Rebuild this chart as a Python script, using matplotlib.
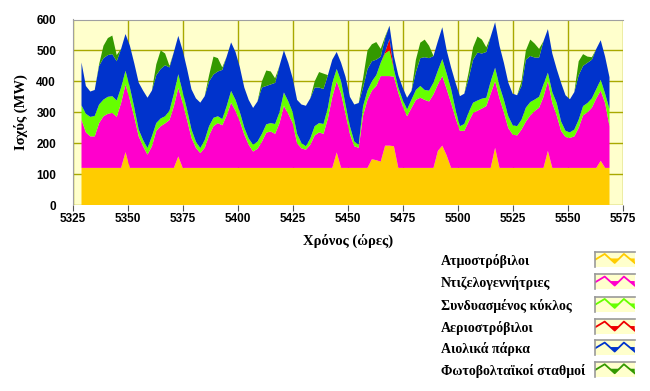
import numpy as np
import matplotlib
matplotlib.use('Agg')
import matplotlib.pyplot as plt

# hourly readings, every 2 hours from 5329 to 5569
hours = np.arange(5329, 5570, 2)

steam = [120] * 10 + [171, 120] + \
        [120] * 10 + [157, 120] + \
        [120] * 12 + \
        [120] * 12 + \
        [120] * 10 + [170, 120] + \
        [120] * 6 + [148, 145, 140, 192, 192, 190] + \
        [120] * 9 + [175, 192, 160] + \
        [120] * 10 + [185, 120] + \
        [120] * 10 + [175, 120] + \
        [120] * 10 + [143, 120, 120]

diesel = [156, 115, 102, 102, 145, 167, 175, 178, 165, 210, 219, 220,
          164, 102, 70, 43, 70, 120, 135, 144, 155, 200, 222, 210,
          155, 97, 65, 48, 65, 105, 135, 145, 138, 170, 211, 185,
          150, 108, 75, 53, 62, 85, 114, 118, 110, 145, 201, 175,
          145, 80, 63, 59, 75, 105, 115, 110, 160, 230, 230, 240,
          175, 110, 70, 65, 170, 220, 222, 240, 277, 225, 225, 225,
          243, 200, 167, 194, 220, 227, 220, 215, 238, 215, 225, 215,
          210, 162, 120, 120, 150, 178, 185, 192, 200, 240, 216, 225,
          180, 129, 108, 105, 124, 150, 170, 184, 195, 230, 226, 210,
          170, 120, 100, 97, 102, 130, 170, 180, 195, 225, 227, 210, 135]

combined = [46, 60, 63, 66, 60, 54, 55, 54, 53, 50, 44, 40,
            31, 22, 20, 21, 32, 25, 25, 23, 30, 40, 44, 35,
            33, 27, 20, 16, 25, 30, 27, 22, 20, 30, 38, 35,
            30, 22, 20, 22, 23, 25, 27, 27, 32, 35, 43, 40,
            35, 30, 17, 11, 20, 30, 30, 32, 35, 45, 40, 40,
            30, 25, 15, 10, 30, 30, 30, 35, 43, 73, 83, 24,
            17, 20, 22, 27, 32, 38, 32, 35, 38, 45, 55, 50,
            45, 27, 15, 22, 30, 33, 33, 32, 27, 40, 43, 40,
            40, 38, 30, 30, 32, 45, 43, 37, 35, 40, 27, 35,
            40, 30, 20, 18, 22, 26, 30, 30, 30, 30, 35, 30, 55]

gas = [0] * 60 + \
      [0] * 9 + [5, 37, 0] + \
      [0] * 49

wind = [139, 90, 82, 84, 125, 134, 135, 136, 127, 125, 119, 135,
        143, 152, 160, 163, 148, 155, 160, 165, 140, 135, 124, 135,
        132, 130, 140, 147, 142, 145, 140, 145, 159, 160, 157, 155,
        145, 130, 125, 119, 130, 150, 124, 125, 133, 150, 136, 125,
        110, 110, 125, 131, 130, 125, 115, 113, 105, 75, 55, 60,
        90, 95, 120, 135, 60, 70, 65, 50, 20, 45, 43, 43,
        40, 40, 38, 28, 58, 90, 106, 105, 86, 95, 103, 75,
        70, 87, 97, 98, 110, 139, 155, 146, 148, 145, 147, 130,
        120, 109, 102, 100, 109, 155, 149, 136, 127, 140, 141, 125,
        110, 125, 115, 107, 121, 144, 130, 130, 125, 130, 128, 120, 103]

solar = [0, 0, 0, 0, 5, 40, 55, 60, 20, 0, 0, 0,
         0, 0, 0, 0, 0, 35, 60, 38, 5, 0, 0, 0,
         0, 0, 0, 0, 0, 20, 58, 43, 8, 0, 0, 0,
         0, 0, 0, 0, 0, 20, 50, 42, 15, 0, 0, 0,
         0, 0, 0, 0, 0, 20, 50, 50, 0, 0, 0, 0,
         0, 0, 0, 0, 30, 60, 55, 57, 25, 5, 0, 0,
         0, 0, 0, 0, 40, 50, 57, 40, 0, 0, 0, 0,
         0, 0, 0, 0, 20, 40, 52, 45, 15, 0, 0, 0,
         0, 0, 0, 0, 15, 30, 53, 45, 28, 0, 0, 0,
         0, 0, 0, 0, 0, 45, 38, 20, 8, 0, 0, 0, 0]

labels = ['Ατμοστρόβιλοι', 'Ντιζελογεννήτριες', 'Συνδυασμένος κύκλος',
          'Αεριοστρόβιλοι', 'Αιολικά πάρκα', 'Φωτοβολταϊκοί σταθμοί']
colors = ['#FFCC00', '#FF00CC', '#66FF00', '#EE0000', '#0033CC', '#339900']

xticks = [5325, 5350, 5375, 5400, 5425, 5450, 5475, 5500, 5525, 5550, 5575]
yticks = [0, 100, 200, 300, 400, 500, 600]

bg = '#FFFFCC'
W, H = 650, 391
fig = plt.figure(figsize=(6.5, 3.91), dpi=100)
ax = fig.add_axes([72.7 / W, 1 - 205 / H, 550 / W, 185.5 / H])
ax.set_facecolor(bg)

ax.stackplot(hours, steam, diesel, combined, gas, wind, solar,
             colors=colors, linewidth=0)

ax.set_xlim(5325, 5575)
ax.set_ylim(0, 600)
ax.set_xticks(xticks)
ax.set_yticks(yticks)
ax.grid(True, color='#A8A800', linewidth=1.0)
ax.set_axisbelow(True)

for s in ['right', 'bottom']:
    ax.spines[s].set_visible(False)
for s in ['left', 'top']:
    ax.spines[s].set_color('#A0A0A0')

tick_font = dict(family='Liberation Sans', weight='bold', size=8.5)
ax.tick_params(axis='y', length=0, pad=12)
ax.tick_params(axis='x', length=4, pad=2, color='#555555')
for t in ax.get_xticklabels() + ax.get_yticklabels():
    t.set_fontproperties(matplotlib.font_manager.FontProperties(**tick_font))

label_font = dict(family='Liberation Serif', weight='bold', size=10.5)
ax.set_xlabel('Χρόνος (ώρες)', labelpad=6, **label_font)
ax.set_ylabel('Ισχύς (MW)', labelpad=6, **label_font)

# legend at bottom right: text + small zigzag icons
legend_font = dict(family='Liberation Serif', weight='bold', size=10)
rows = [260.7, 283.3, 305.7, 328.3, 349.3, 371.0]
zx = [0.0, 0.25, 0.5, 0.73, 1.0]
zy = [0.45, 0.85, 0.25, 0.85, 0.25]
for lab, c, ry in zip(labels, colors, rows):
    fig.text(440.7 / W, 1 - ry / H, lab, ha='left', va='center', **legend_font)
    ia = fig.add_axes([594.7 / W, 1 - (ry + 6) / H, 40 / W, 15 / H])
    ia.set_facecolor(bg)
    ia.set_xlim(0, 1)
    ia.set_ylim(0, 1)
    ia.set_xticks([])
    ia.set_yticks([])
    for s in ['right', 'bottom']:
        ia.spines[s].set_visible(False)
    for s in ['left', 'top']:
        ia.spines[s].set_color('#999999')
        ia.spines[s].set_linewidth(1.2)
    xx = np.linspace(0, 1, 201)
    yy = np.interp(xx, zx, zy)
    ia.fill_between(xx, yy, 0.55, where=yy < 0.55, color=c, linewidth=0)
    ia.plot(zx, zy, color=c, linewidth=1.3)

fig.savefig('out.png', dpi=100)
